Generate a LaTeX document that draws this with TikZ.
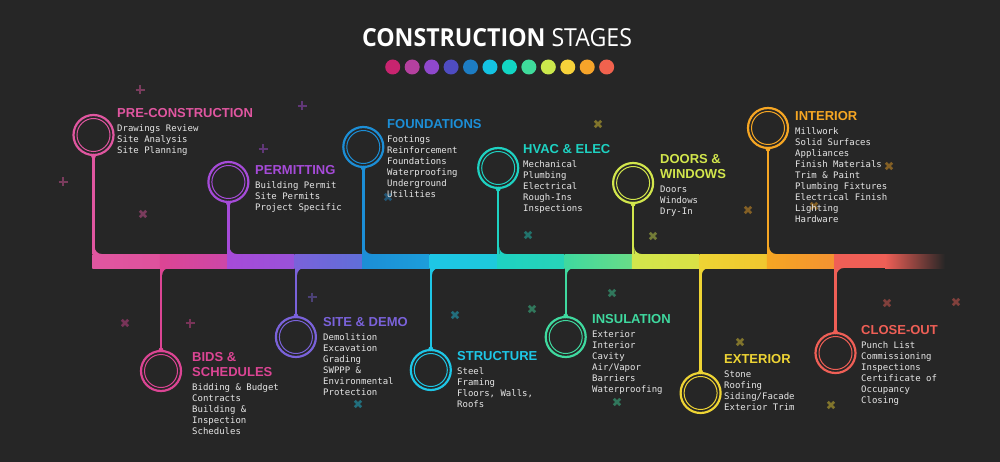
\documentclass[tikz,border=0pt]{standalone}
\usepackage{fontspec}
\usepackage{graphicx}
\setmainfont{Liberation Sans}
\newfontfamily\headfont{Liberation Sans}
\newfontfamily\bodyfont{DejaVu Sans Mono}
\newfontfamily\titlefont{Open Sans}
\usetikzlibrary{positioning}

\definecolor{bg}{HTML}{262626}
\definecolor{txt}{HTML}{E6E6E6}
% stage colours
\definecolor{cPre}{HTML}{E056A0}
\definecolor{cBid}{HTML}{DC4594}
\definecolor{cPer}{HTML}{A64BD9}
\definecolor{cSit}{HTML}{7A62DA}
\definecolor{cFou}{HTML}{1C8ED6}
\definecolor{cStr}{HTML}{1EC6E6}
\definecolor{cHva}{HTML}{1ED2C2}
\definecolor{cIns}{HTML}{3FD99F}
\definecolor{cDoo}{HTML}{D2E64C}
\definecolor{cExt}{HTML}{EED434}
\definecolor{cInt}{HTML}{F6A623}
\definecolor{cClo}{HTML}{EF5F56}
% title dots
\definecolor{d1}{HTML}{C8246F}
\definecolor{d2}{HTML}{B5409F}
\definecolor{d3}{HTML}{8F48CC}
\definecolor{d4}{HTML}{4F4CC2}
\definecolor{d5}{HTML}{1D7DC4}
\definecolor{d6}{HTML}{14C3E3}
\definecolor{d7}{HTML}{12D6C4}
\definecolor{d8}{HTML}{3FDB9C}
\definecolor{d9}{HTML}{CBE84C}
\definecolor{d10}{HTML}{F7D23A}
\definecolor{d11}{HTML}{F6A42A}
\definecolor{d12}{HTML}{F1624E}

\begin{document}
\begin{tikzpicture}[x=1pt, y=-1pt,
        ring/.style={circle, draw, line width=2.2pt, minimum size=40pt, inner sep=0pt},
        stem/.style={line width=2.4pt},
        head/.style={font=\headfont\bfseries\fontsize{13}{15}\selectfont, align=left, inner sep=0pt, anchor=west},
        body/.style={font=\bodyfont\fontsize{9}{11}\selectfont, text=txt, align=left, inner sep=0pt},
        dot/.style={circle, minimum size=15pt, inner sep=0pt},
        spark/.pic={\draw[line width=2.6pt] (-4.5,0) -- (4.5,0) (0,-4.5) -- (0,4.5);}
    ]
        \useasboundingbox (0,0) rectangle (1000,462);
        \fill[bg] (0,0) rectangle (1000,462);

        % background sparks
        \foreach \x/\y/\col/\ang in {140/90/cPre/0, 63/182/cPre/0, 302/106/cPer/0, 263/149/cPer/0,
                125/323/cBid/45, 190/323/cBid/0, 143/214/cPre/45, 312/297/cSit/0, 455/315/cStr/45,
                358/404/cStr/45, 388/197/cFou/45, 532/309/cIns/45, 612/293/cIns/45, 617/402/cIns/45,
                528/235/cHva/45, 598/124/cExt/45, 653/236/cDoo/45, 748/210/cInt/45, 814/206/cInt/45,
                889/166/cInt/45, 740/342/cExt/45, 831/405/cExt/45, 887/303/cClo/45, 956/302/cClo/45}
            \pic[color=\col!45!bg, rotate=\ang] at (\x,\y) {spark};

        % title
        \node[text=white, font=\titlefont, inner sep=0pt] (title) at (497,37.5)
            {\resizebox{270pt}{18pt}{\textbf{CONSTRUCTION} STAGES}};
        \foreach \col [count=\i] in {d1,d2,d3,d4,d5,d6,d7,d8,d9,d10,d11,d12}
            \node[dot, fill=\col] (dot\i) at ({392.7+19.45*(\i-1)},67) {};

        % timeline bar
        \coordinate (barT) at (0,254);
        \coordinate (barB) at (0,268);
        \foreach \i/\a/\b in {1/cPre/cBid, 2/cBid/cPer, 3/cPer/cSit, 4/cSit/cFou, 5/cFou/cStr, 6/cStr/cHva,
                7/cHva/cIns, 8/cIns/cDoo, 9/cDoo/cExt, 10/cExt/cInt, 11/cInt/cClo}
            \fill[left color=\a, right color=\a!72!\b] ({92.3+67.45*(\i-1)},254) rectangle ({92.3+67.45*\i},268);
        \fill[cClo] (834.2,254) rectangle (885,268);
        \fill[left color=cClo, right color=bg] (885,254) rectangle (945,268);

        % fillets where the stems meet the bar
        \foreach \x/\col in {93.5/cPre, 228.4/cPer, 363.3/cFou, 498.2/cHva, 633.1/cDoo, 768/cInt}
            \fill[\col] (\x+1.2,247) -- (\x+1.2,254) -- (\x+8.2,254) arc[start angle=90, end angle=180, radius=7] -- cycle;
        \foreach \x/\col in {161/cBid, 295.9/cSit, 430.8/cStr, 565.7/cIns, 700.6/cExt, 835.5/cClo}
            \fill[\col] (\x+1.2,275) -- (\x+1.2,268) -- (\x+8.2,268) arc[start angle=270, end angle=180, radius=7] -- cycle;

        % stages above the bar
        \node[ring, draw=cPre] (preC) at (93.5,135) {};
        \node[head, text=cPre] (preH) at (117,113) {PRE-CONSTRUCTION};
        \node[body, below=7pt of preH.south west, anchor=north west] (preT) {Drawings Review\\Site Analysis\\Site Planning};

        \node[ring, draw=cPer] (perC) at (228.4,182) {};
        \node[head, text=cPer] (perH) at (255,170) {PERMITTING};
        \node[body, below=7pt of perH.south west, anchor=north west] (perT) {Building Permit\\Site Permits\\Project Specific};

        \node[ring, draw=cFou] (fouC) at (363.3,147) {};
        \node[head, text=cFou] (fouH) at (387,124) {FOUNDATIONS};
        \node[body, below=7pt of fouH.south west, anchor=north west] (fouT) {Footings\\Reinforcement\\Foundations\\Waterproofing\\Underground\\Utilities};

        \node[ring, draw=cHva] (hvaC) at (498.2,168) {};
        \node[head, text=cHva] (hvaH) at (523,149) {HVAC \& ELEC};
        \node[body, below=7pt of hvaH.south west, anchor=north west] (hvaT) {Mechanical\\Plumbing\\Electrical\\Rough-Ins\\Inspections};

        \node[ring, draw=cDoo] (dooC) at (633.1,183) {};
        \node[head, text=cDoo] (dooH) at (660,166.5) {DOORS \&\\WINDOWS};
        \node[body, below=7pt of dooH.south west, anchor=north west] (dooT) {Doors\\Windows\\Dry-In};

        \node[ring, draw=cInt] (intC) at (768,128) {};
        \node[head, text=cInt] (intH) at (795,116) {INTERIOR};
        \node[body, below=7pt of intH.south west, anchor=north west] (intT) {Millwork\\Solid Surfaces\\Appliances\\Finish Materials\\Trim \& Paint\\Plumbing Fixtures\\Electrical Finish\\Lighting\\Hardware};

        % stages below the bar
        \node[ring, draw=cBid] (bidC) at (161,371) {};
        \node[head, text=cBid] (bidH) at (192,364.5) {BIDS \&\\SCHEDULES};
        \node[body, below=7pt of bidH.south west, anchor=north west] (bidT) {Bidding \& Budget\\Contracts\\Building \&\\Inspection\\Schedules};

        \node[ring, draw=cSit] (sitC) at (295.9,337) {};
        \node[head, text=cSit] (sitH) at (323,322) {SITE \& DEMO};
        \node[body, below=7pt of sitH.south west, anchor=north west] (sitT) {Demolition\\Excavation\\Grading\\SWPPP \&\\Environmental\\Protection};

        \node[ring, draw=cStr] (strC) at (430.8,370) {};
        \node[head, text=cStr] (strH) at (457,356) {STRUCTURE};
        \node[body, below=7pt of strH.south west, anchor=north west] (strT) {Steel\\Framing\\Floors, Walls,\\Roofs};

        \node[ring, draw=cIns] (insC) at (565.7,337) {};
        \node[head, text=cIns] (insH) at (592,319) {INSULATION};
        \node[body, below=7pt of insH.south west, anchor=north west] (insT) {Exterior\\Interior\\Cavity\\Air/Vapor\\Barriers\\Waterproofing};

        \node[ring, draw=cExt] (extC) at (700.6,393) {};
        \node[head, text=cExt] (extH) at (724,359) {EXTERIOR};
        \node[body, below=7pt of extH.south west, anchor=north west] (extT) {Stone\\Roofing\\Siding/Facade\\Exterior Trim};

        \node[ring, draw=cClo] (cloC) at (835.5,353) {};
        \node[head, text=cClo] (cloH) at (861,330) {CLOSE-OUT};
        \node[body, below=7pt of cloH.south west, anchor=north west] (cloT) {Punch List\\Commissioning\\Inspections\\Certificate of\\Occupancy\\Closing};

        % stems, inner rings and knobs
        \foreach \n/\col in {preC/cPre, perC/cPer, fouC/cFou, hvaC/cHva, dooC/cDoo, intC/cInt} {
            \draw[stem, \col] (\n.south) -- (\n.south |- barT);
            \fill[\col] (\n.south) circle (2.4);
            \draw[\col, line width=1pt] (\n.center) circle (16.5);
        }
        \foreach \n/\col in {bidC/cBid, sitC/cSit, strC/cStr, insC/cIns, extC/cExt, cloC/cClo} {
            \draw[stem, \col] (\n.north) -- (\n.north |- barB);
            \fill[\col] (\n.north) circle (2.4);
            \draw[\col, line width=1pt] (\n.center) circle (16.5);
        }
    \end{tikzpicture}
\end{document}
